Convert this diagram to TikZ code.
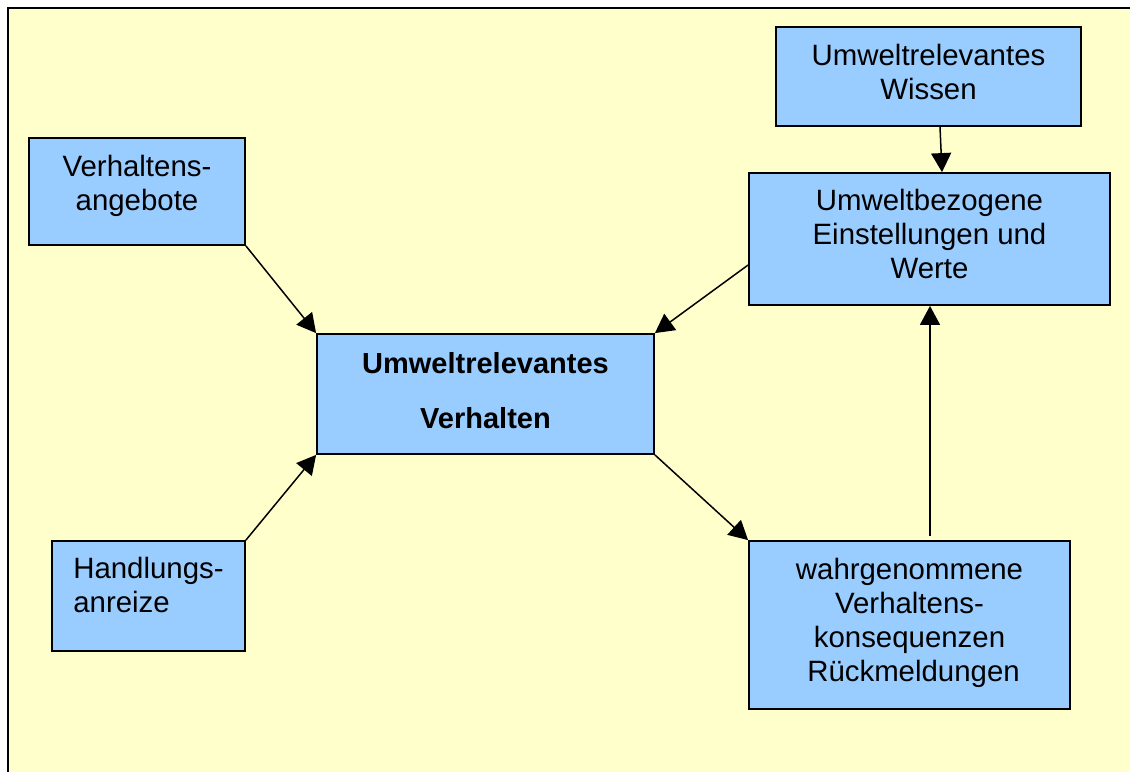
\documentclass[tikz,border=0pt]{standalone}
\usepackage{fontspec}
\setmainfont{Liberation Sans}
\usetikzlibrary{arrows.meta}
\definecolor{paper}{HTML}{FFFFCC}
\definecolor{boxblue}{HTML}{99CCFF}
% invisible strut that adds depth below the last line of a node text
\newcommand{\padbelow}[1]{\rule[-#1]{0pt}{#1}}
\begin{document}
\begin{tikzpicture}[x=1pt,y=-1pt,
  box/.style={draw=black, line width=1.8pt, fill=boxblue, inner sep=0pt,
    align=center, font=\fontsize{29.4}{34}\selectfont},
  mainbox/.style={box, font=\fontsize{29}{55}\selectfont\bfseries},
  link/.style={line width=1.5pt, -{Triangle[length=19pt,width=20pt]}}]
  \useasboundingbox (0,0) rectangle (1130,772);
  % background panel, open to the right and bottom
  \fill[white] (0,0) rectangle (1130,772);
  \fill[paper] (8,8) rectangle (1130,772);
  \draw[line width=2pt] (8,772) -- (8,8) -- (1130,8);

  % boxes
  \node[box, minimum width=305pt, minimum height=99pt] (wis) at (928.5,76.5)
    {Umweltrelevantes\\Wissen\padbelow{10pt}};
  \node[box, minimum width=361pt, minimum height=132pt] (eins) at (929.5,239)
    {Umweltbezogene\\Einstellungen und\\Werte\padbelow{10pt}};
  \node[box, minimum width=216pt, minimum height=107pt] (ang) at (137,191.5)
    {Verhaltens-\\angebote\padbelow{18pt}};
  \node[box, align=left, minimum width=193pt, minimum height=110pt] (anr) at (148.5,596)
    {Handlungs-\\anreize\padbelow{22pt}};
  \node[mainbox, minimum width=337pt, minimum height=120pt] (ctr) at (485.5,394)
    {Umweltrelevantes\\Verhalten\padbelow{8pt}};
  \node[box, minimum width=321pt, minimum height=168pt] (wahr) at (909.5,625)
    {wahrgenommene\\Verhaltens-\\konsequenzen\\\hspace*{8pt}Rückmeldungen\padbelow{11pt}};

  % influences
  \draw[link] (ang.south east) -- (ctr.north west);
  \draw[link] (anr.north east) -- (ctr.south west);
  \draw[link] ([yshift=-26pt]eins.west) -- (ctr.north east);
  \draw[link] (ctr.south east) -- (wahr.north west);
  \draw[link] ([xshift=11.5pt]wis.south) -- ([xshift=12.5pt]eins.north);
  \draw[link, shorten <=4pt] ([xshift=20.5pt]wahr.north) -- ([xshift=0.5pt]eins.south);
\end{tikzpicture}
\end{document}
